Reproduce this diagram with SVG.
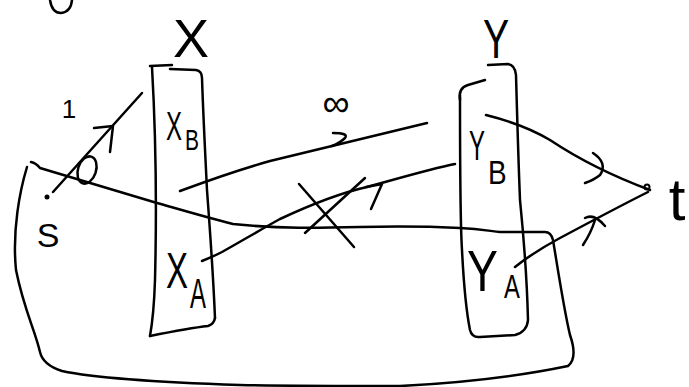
<svg xmlns="http://www.w3.org/2000/svg" width="689" height="387" viewBox="0 0 689 387">
<style>
.s{fill:none;stroke:#000;stroke-width:2.5;stroke-linecap:round;stroke-linejoin:round}
.t{font-family:"Liberation Sans",Arial,sans-serif;fill:#000}
</style>
<rect width="689" height="387" fill="#fff"/>
<path class="s" d="M50,0 Q52,13 61,13 Q71,12 72,0"/>
<g id="cut">
<path class="s" d="M31,162 Q36,163 40,168 C80,180 120,192 157,203 C185,211 205,217 233,224 C280,229 320,228 360,227 C400,226 440,227 460,228 C480,229 490,231 500,232 L545,232 Q551,232 553,240 C558,270 564,310 570,335 Q578,358 568,366 C520,376 460,383 400,386 C340,386 290,386 240,385 C150,382 90,377 62,371 Q43,365 40,352 C35,330 24,310 16,270 C12,230 20,190 27,167"/>
</g>
<g id="nodeX">
<path class="s" d="M150,66 L172,65"/>
<path class="s" d="M152,67 C155,120 157,200 155,280 C154,310 152,325 150,336"/>
<path class="s" d="M150,336 C170,332 190,328 208,326 Q214,324 215,318"/>
<path class="s" d="M215,318 C213,270 210,230 207,190 C205,150 203,110 202,78 Q202,71 196,70 L170,69"/>
<text class="t" x="191" y="57" font-size="54" text-anchor="middle">X</text>
<text class="t" font-size="40" transform="translate(166 140) scale(0.6 1)">X</text>
<text class="t" font-size="30" transform="translate(185 150) scale(0.7 1)">B</text>
<text class="t" font-size="50" transform="translate(166 288) scale(0.66 1)">X</text>
<text class="t" font-size="42" transform="translate(190 308) scale(0.57 1)">A</text>
</g>
<g id="nodeY">
<path class="s" d="M460,100 Q458,88 468,85 L485,80"/>
<path class="s" d="M460,95 C460,160 460,220 462,250 C464,290 467,315 470,330 Q472,338 480,337 L515,335 Q527,332 528,320 C527,280 524,240 520,200 C518,150 517,110 516,75 Q515,65 508,64 L488,65"/>
<text class="t" font-size="56" text-anchor="middle" transform="translate(496 58) scale(0.7 1)">Y</text>
<text class="t" font-size="42" transform="translate(469 160) scale(0.57 1)">Y</text>
<text class="t" font-size="34" transform="translate(488 184) scale(0.82 1)">B</text>
<text class="t" font-size="58" transform="translate(467 291) scale(0.8 1)">Y</text>
<text class="t" font-size="34" transform="translate(504 298) scale(0.7 1)">A</text>
</g>
<g id="nodeS">
<circle cx="47" cy="197" r="2.5" fill="#000"/>
<text class="t" x="48" y="247" font-size="34" text-anchor="middle">S</text>
</g>
<g id="nodeT">
<circle cx="647" cy="187" r="2.5" fill="none" stroke="#000" stroke-width="2"/>
<text class="t" x="677" y="220" font-size="60" text-anchor="middle">t</text>
</g>
<g id="connectors">
<path class="s" d="M53,192 L142,93"/>
<path class="s" d="M94,128 L113,126 L110,152"/>
<ellipse class="s" cx="87" cy="170" rx="9" ry="14" transform="rotate(18 87 170)"/>
<text class="t" x="69" y="118" font-size="26" text-anchor="middle">1</text>
<path class="s" d="M180,191 C215,178 245,168 270,161 C330,146 390,132 427,123"/>
<path class="s" d="M333,133 Q349,133 345,138 Q340,143 332,146"/>
<text class="t" x="336" y="116" font-size="38" text-anchor="middle">∞</text>
<path class="s" d="M202,261 Q212,257 222,252 C240,242 260,230 280,219 C310,205 340,193 367,187 C400,178 430,169 455,164"/>
<path class="s" d="M366,187 L382,184 L371,209"/>
<path class="s" d="M299,184 L354,247"/>
<path class="s" d="M305,233 L365,178"/>
<path class="s" d="M486,115 C510,121 530,128 550,140 C580,160 615,177 650,190"/>
<path class="s" d="M593,153 Q608,163 600,175 Q594,180 585,183"/>
<path class="s" d="M515,267 C530,255 545,246 560,238 C590,222 620,206 648,192"/>
<path class="s" d="M585,218 Q594,213 605,226"/>
<path class="s" d="M595,220 Q591,233 583,245"/>
</g>
</svg>
